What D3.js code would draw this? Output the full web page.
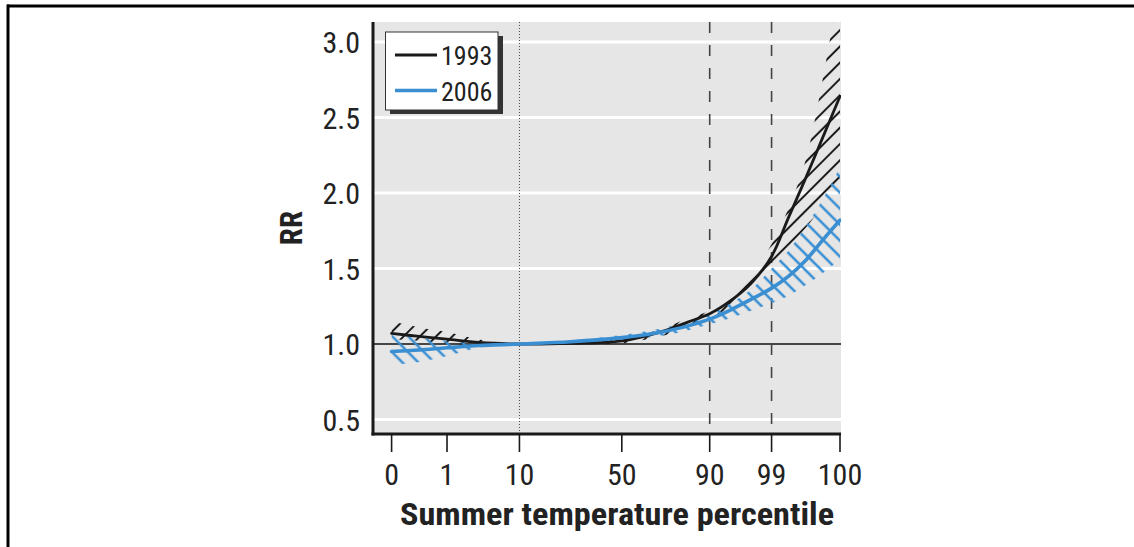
<!DOCTYPE html>
<html>
<head>
<meta charset="utf-8">
<script src="https://cdn.jsdelivr.net/npm/d3@7"></script>
<style>
  html, body { margin: 0; padding: 0; background: #fff; }
  svg { display: block; }
  .cond { font-family: "Liberation Sans Narrow", "Roboto Condensed", "DejaVu Sans Condensed", "Arial Narrow", sans-serif; }
</style>
</head>
<body>
<svg id="chart" width="1134" height="547"></svg>
<script>
// Summer temperature percentile at which each estimate is given
const percentiles = [0, 0.5, 1, 5, 10, 30, 50, 70, 80, 90, 93, 96, 99, 99.25, 99.5, 99.75, 100];

// Relative risk of death, 1993 model, with 95% interval
const rr1993 = [1.07, 1.05, 1.032, 1.01, 1.0, 1.004, 1.02, 1.09, 1.145, 1.2, 1.285, 1.40, 1.58, 1.84, 2.10, 2.37, 2.64];
const hi1993 = [1.15, 1.11, 1.08, 1.03, 1.0, 1.01, 1.035, 1.11, 1.17, 1.22, 1.30, 1.45, 1.66, 1.90, 2.22, 2.76, 3.40];
const lo1993 = [1.03, 1.02, 1.0, 0.995, 1.0, 1.0, 1.005, 1.06, 1.11, 1.17, 1.24, 1.33, 1.50, 1.64, 1.77, 1.91, 2.03];

// Relative risk of death, 2006 model, with 95% interval
const rr2006 = [0.95, 0.96, 0.975, 0.99, 1.0, 1.015, 1.042, 1.085, 1.12, 1.165, 1.225, 1.295, 1.37, 1.45, 1.555, 1.69, 1.82];
const hi2006 = [1.06, 1.04, 1.02, 1.005, 1.0, 1.025, 1.06, 1.11, 1.15, 1.20, 1.27, 1.36, 1.50, 1.62, 1.78, 1.96, 2.17];
const lo2006 = [0.86, 0.88, 0.92, 0.975, 1.0, 1.005, 1.025, 1.06, 1.09, 1.13, 1.17, 1.22, 1.27, 1.32, 1.39, 1.47, 1.56];

// Axis ticks
const xTicks = [0, 1, 10, 50, 90, 99, 100];
const xTickPos = [0, 0.1236, 0.2851, 0.5134, 0.7094, 0.8474, 1]; // relative spacing of the temperature axis
const yTicks = [0.5, 1.0, 1.5, 2.0, 2.5, 3.0];
const seriesNames = ["1993", "2006"];
const seriesColors = ["#1a1a1a", "#3a8ed2"];

const svg = d3.select("#chart");
const W = 1134, H = 547;

// panel geometry
const panel = { left: 373, right: 841, top: 22, bottom: 434 };
const xr0 = 391.6, xr1 = 840;

const x = d3.scaleLinear()
  .domain(xTicks)
  .range(xTickPos.map(f => xr0 + f * (xr1 - xr0)));
const y = d3.scaleLinear().domain([0.5, 3.0]).range([419.5, 42]);

// outer frame (top and left rules)
svg.append("line").attr("x1", 7).attr("x2", W).attr("y1", 6).attr("y2", 6)
  .attr("stroke", "#000").attr("stroke-width", 3);
svg.append("line").attr("x1", 8).attr("x2", 8).attr("y1", 4.5).attr("y2", H)
  .attr("stroke", "#000").attr("stroke-width", 3);

const defs = svg.append("defs");
defs.append("clipPath").attr("id", "panelClip")
  .append("rect")
  .attr("x", panel.left).attr("y", panel.top)
  .attr("width", panel.right - panel.left).attr("height", panel.bottom - panel.top);

function hatch(id, angle, color, width, spacing) {
  const p = defs.append("pattern")
    .attr("id", id)
    .attr("patternUnits", "userSpaceOnUse")
    .attr("width", spacing).attr("height", spacing)
    .attr("patternTransform", `rotate(${angle})`);
  p.append("line")
    .attr("x1", spacing / 2).attr("x2", spacing / 2)
    .attr("y1", 0).attr("y2", spacing)
    .attr("stroke", color).attr("stroke-width", width);
}
hatch("hatch1993", 45, seriesColors[0], 2, 11.5);
hatch("hatch2006", -45, seriesColors[1], 2.5, 11.3);

// panel background
svg.append("rect")
  .attr("x", panel.left).attr("y", panel.top)
  .attr("width", panel.right - panel.left).attr("height", panel.bottom - panel.top)
  .attr("fill", "#e6e6e6");

// white gridlines
svg.append("g").selectAll("line")
  .data(yTicks.filter(v => v !== 1.0))
  .join("line")
  .attr("x1", panel.left).attr("x2", panel.right)
  .attr("y1", d => y(d)).attr("y2", d => y(d))
  .attr("stroke", "#fff").attr("stroke-width", 3);

// reference line RR = 1
svg.append("line")
  .attr("x1", panel.left).attr("x2", panel.right)
  .attr("y1", y(1)).attr("y2", y(1))
  .attr("stroke", "#111").attr("stroke-width", 1.6);

// reference percentiles
svg.append("line")
  .attr("x1", x(10)).attr("x2", x(10))
  .attr("y1", panel.top).attr("y2", panel.bottom)
  .attr("stroke", "#444").attr("stroke-width", 1)
  .attr("stroke-dasharray", "1,2");
svg.append("g").selectAll("line")
  .data([90, 99])
  .join("line")
  .attr("x1", d => x(d)).attr("x2", d => x(d))
  .attr("y1", panel.top).attr("y2", panel.bottom)
  .attr("stroke", "#444").attr("stroke-width", 1.6)
  .attr("stroke-dasharray", "11,12");

const plot = svg.append("g").attr("clip-path", "url(#panelClip)");
const curve = d3.curveCatmullRom.alpha(0.5);

function band(lo, hi, fillId) {
  const area = d3.area()
    .x((d, i) => x(percentiles[i]))
    .y0((d, i) => y(lo[i]))
    .y1((d, i) => y(hi[i]))
    .curve(curve);
  plot.append("path")
    .attr("d", area(percentiles))
    .attr("fill", `url(#${fillId})`);
}
function trace(vals, color, width) {
  const line = d3.line()
    .x((d, i) => x(percentiles[i]))
    .y(d => y(d))
    .curve(curve);
  plot.append("path")
    .attr("d", line(vals))
    .attr("fill", "none")
    .attr("stroke", color)
    .attr("stroke-width", width)
    .attr("stroke-linecap", "round");
}

band(lo1993, hi1993, "hatch1993");
band(lo2006, hi2006, "hatch2006");
trace(rr1993, seriesColors[0], 2.8);
trace(rr2006, seriesColors[1], 3.6);

// axes lines
svg.append("line")
  .attr("x1", panel.left).attr("x2", panel.left)
  .attr("y1", panel.top).attr("y2", panel.bottom + 1.5)
  .attr("stroke", "#1a1a1a").attr("stroke-width", 3);
svg.append("line")
  .attr("x1", panel.left - 1.5).attr("x2", panel.right)
  .attr("y1", panel.bottom).attr("y2", panel.bottom)
  .attr("stroke", "#1a1a1a").attr("stroke-width", 3);

// x ticks and labels
const xAxis = svg.append("g");
xAxis.selectAll("line")
  .data(xTicks)
  .join("line")
  .attr("x1", d => x(d)).attr("x2", d => x(d))
  .attr("y1", panel.bottom).attr("y2", 452)
  .attr("stroke", "#1a1a1a").attr("stroke-width", 1.6);
xAxis.selectAll("text")
  .data(xTicks)
  .join("text")
  .attr("class", "cond")
  .attr("x", d => x(d)).attr("y", 485)
  .attr("text-anchor", "middle")
  .attr("font-size", 30)
  .attr("fill", "#222")
  .text(d => d);

// y labels
svg.append("g").selectAll("text")
  .data(yTicks)
  .join("text")
  .attr("class", "cond")
  .attr("x", 360).attr("y", d => y(d) + 11)
  .attr("text-anchor", "end")
  .attr("font-size", 30)
  .attr("fill", "#222")
  .text(d => d.toFixed(1));

// axis titles
svg.append("text")
  .attr("class", "cond")
  .attr("x", 617).attr("y", 525)
  .attr("text-anchor", "middle")
  .attr("font-size", 32).attr("font-weight", "bold")
  .attr("textLength", 434).attr("lengthAdjust", "spacingAndGlyphs")
  .attr("fill", "#222")
  .text("Summer temperature percentile");
svg.append("text")
  .attr("class", "cond")
  .attr("transform", "translate(302,228) rotate(-90)")
  .attr("text-anchor", "middle")
  .attr("font-size", 31).attr("font-weight", "bold")
  .attr("fill", "#222")
  .text("RR");

// legend
const lg = svg.append("g");
lg.append("rect").attr("x", 390).attr("y", 36).attr("width", 113).attr("height", 78).attr("fill", "#333");
lg.append("rect").attr("x", 385.5).attr("y", 32).attr("width", 112.5).attr("height", 78)
  .attr("fill", "#fff").attr("stroke", "#333").attr("stroke-width", 1);
const entries = lg.selectAll("g.entry")
  .data(seriesNames)
  .join("g")
  .attr("transform", (d, i) => `translate(0,${55 + i * 35.5})`);
entries.append("line")
  .attr("x1", 395).attr("x2", 437)
  .attr("stroke", (d, i) => seriesColors[i])
  .attr("stroke-width", (d, i) => i === 0 ? 3 : 3.6);
entries.append("text")
  .attr("class", "cond")
  .attr("x", 441).attr("y", 10)
  .attr("font-size", 26)
  .attr("fill", "#222")
  .text(d => d);
</script>
</body>
</html>
